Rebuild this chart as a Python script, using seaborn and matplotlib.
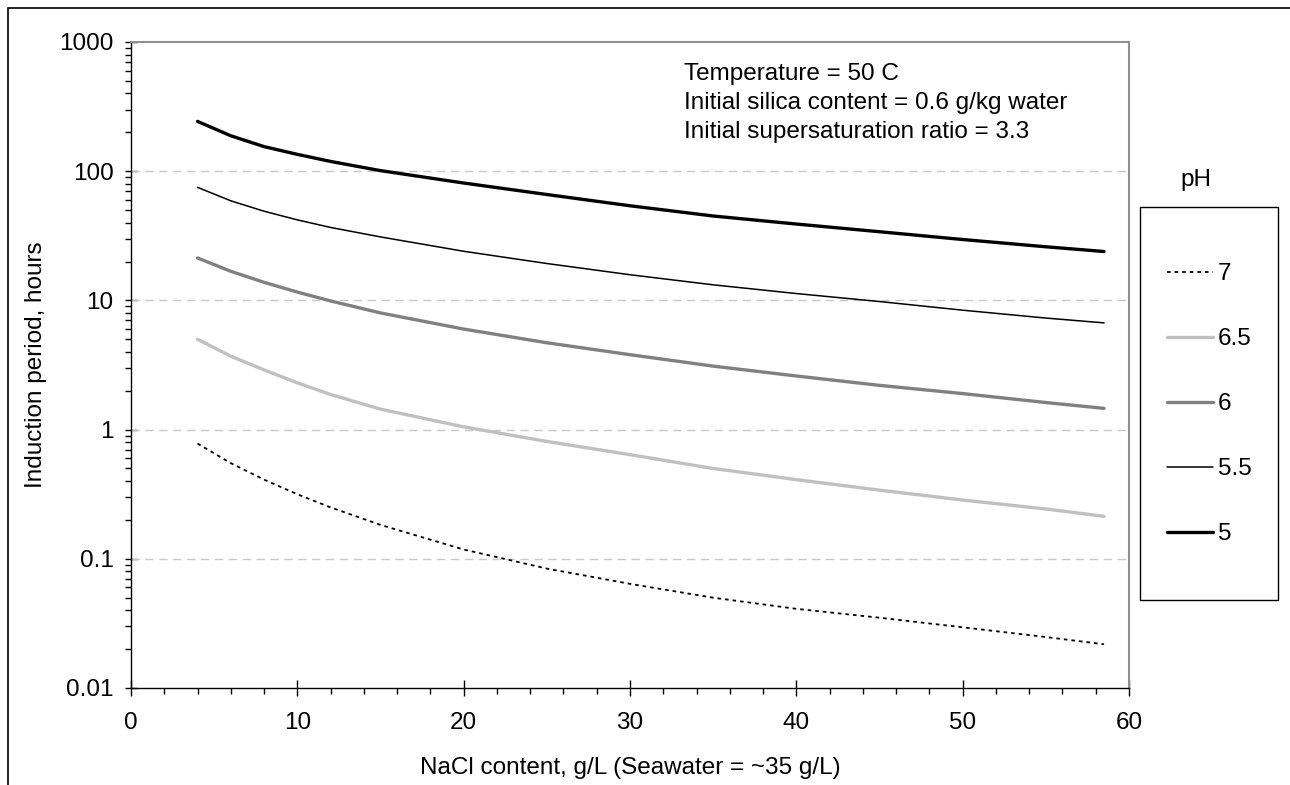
import matplotlib
matplotlib.use("Agg")
import matplotlib.pyplot as plt
import matplotlib.ticker as mticker
from matplotlib.patches import Rectangle
import seaborn as sns
import numpy as np
import pandas as pd

# NaCl content (g/L) en los puntos leidos
nacl = [4, 6, 8, 10, 12, 15, 20, 25, 30, 35, 40, 45, 50, 55, 58.5]

# periodo de induccion (horas) por pH
ph7 = [0.78, 0.55, 0.41, 0.316, 0.25, 0.183, 0.118, 0.084, 0.064, 0.050, 0.041, 0.035, 0.0295, 0.0248, 0.0218]
ph65 = [5.0, 3.7, 2.9, 2.3, 1.87, 1.44, 1.05, 0.81, 0.64, 0.50, 0.41, 0.34, 0.285, 0.243, 0.213]
ph6 = [21.3, 16.8, 13.8, 11.6, 9.9, 8.0, 6.0, 4.7, 3.8, 3.1, 2.6, 2.2, 1.9, 1.62, 1.46]
ph55 = [75, 59, 49, 42, 36.7, 31, 24, 19.3, 15.8, 13.2, 11.3, 9.8, 8.4, 7.3, 6.7]
ph5 = [243, 188, 155, 135, 119, 101, 81, 66, 54, 45, 39, 34, 29.6, 26, 23.9]

etiquetas = ["7", "6.5", "6", "5.5", "5"]
series = [ph7, ph65, ph6, ph55, ph5]

# tabla larga para seaborn
df = pd.DataFrame({
    "nacl": nacl * len(series),
    "horas": np.concatenate(series),
    "pH": np.repeat(etiquetas, len(nacl)),
})

estilos = {
    "7": dict(color="black", lw=1.3, ls=(0, (2, 2.2))),
    "6.5": dict(color="#c0c0c0", lw=2.4, ls="-"),
    "6": dict(color="#808080", lw=2.4, ls="-"),
    "5.5": dict(color="black", lw=1.1, ls="-"),
    "5": dict(color="black", lw=2.4, ls="-"),
}

sns.set_style("white")
plt.rcParams["font.family"] = ["Liberation Sans", "DejaVu Sans"]
plt.rcParams.update({"text.color": "black", "axes.labelcolor": "black",
                     "xtick.color": "black", "ytick.color": "black"})
fs = 17.5

fig = plt.figure(figsize=(12.9, 7.85), dpi=100)
ax = fig.add_axes([131 / 1290, 1 - 688 / 785, (1129 - 131) / 1290, (688 - 42) / 785])

for et in etiquetas:
    st = estilos[et]
    sns.lineplot(data=df[df["pH"] == et], x="nacl", y="horas", ax=ax,
                 color=st["color"], linewidth=st["lw"], linestyle=st["ls"],
                 label=et, zorder=3)

ax.set_yscale("log")
ax.set_xlim(0, 60)
ax.set_ylim(0.01, 1000)
ax.set_xticks(np.arange(0, 61, 10))
ax.xaxis.set_minor_locator(mticker.MultipleLocator(2))
ax.yaxis.set_major_locator(mticker.LogLocator(base=10, numticks=10))
ax.yaxis.set_minor_locator(mticker.LogLocator(base=10, subs=np.arange(2, 10), numticks=20))
ax.yaxis.set_major_formatter(mticker.FuncFormatter(lambda v, p: f"{v:g}"))
ax.yaxis.set_minor_formatter(mticker.NullFormatter())

ax.tick_params(axis="x", which="major", direction="inout", length=11, width=1, labelsize=fs, pad=11.5)
ax.tick_params(axis="x", which="minor", direction="out", length=4, width=1)
ax.tick_params(axis="y", which="major", direction="inout", length=8, width=1, labelsize=fs, pad=8.5)
ax.tick_params(axis="y", which="minor", direction="out", length=4, width=1)
ax.tick_params(bottom=True, left=True, which="both", colors="black")

for g in [0.1, 1, 10, 100]:
    ax.axhline(g, color="#c8c8c8", lw=1, ls=(0, (6, 4)), zorder=1)

for s in ["left", "bottom"]:
    ax.spines[s].set_color("black")
    ax.spines[s].set_linewidth(1)
for s in ["top", "right"]:
    ax.spines[s].set_color("#909090")
    ax.spines[s].set_linewidth(1.5)

ax.set_xlabel("NaCl content, g/L (Seawater = ~35 g/L)", fontsize=fs, labelpad=17)
ax.set_ylabel("Induction period, hours", fontsize=fs, labelpad=9)

ax.text(0.554, 0.968, "Temperature = 50 C\nInitial silica content = 0.6 g/kg water\nInitial supersaturation ratio = 3.3",
        transform=ax.transAxes, fontsize=fs, va="top", ha="left", linespacing=1.41)

# leyenda sin marco, el marco se dibuja aparte
leg = ax.legend(loc="upper left", bbox_to_anchor=(1167 / 1290, 1 - 263 / 785),
                bbox_transform=fig.transFigure, frameon=False,
                fontsize=fs, handlelength=1.9, handletextpad=0.2,
                labelspacing=1.77, borderpad=0, borderaxespad=0)
fig.patches.append(Rectangle((1140 / 1290, 1 - 600 / 785), 138 / 1290, 393 / 785,
                             transform=fig.transFigure, fill=False,
                             edgecolor="black", lw=1))
fig.text(1196 / 1290, 1 - 180 / 785, "pH", fontsize=fs, ha="center", va="center")

# marco exterior
fig.patches.append(Rectangle((8 / 1290, -0.1), 1.2, (785 - 8) / 785 + 0.1,
                             transform=fig.transFigure, fill=False,
                             edgecolor="black", lw=1.2))

fig.savefig("out.png", dpi=100)
